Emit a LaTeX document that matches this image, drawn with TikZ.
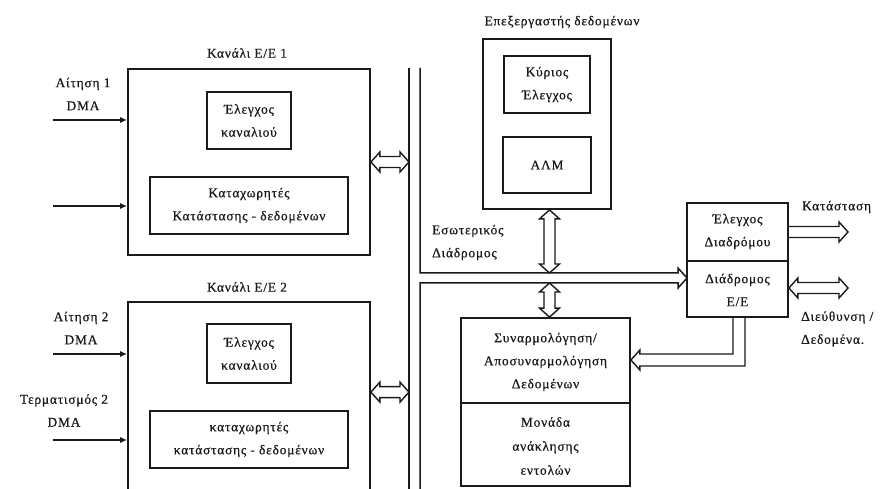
\documentclass[tikz,border=0pt]{standalone}
\usepackage{fontspec}
\setmainfont{Liberation Serif}[LetterSpace=6.0, FakeBold=0.6]
\usetikzlibrary{calc,arrows.meta}

\definecolor{ink}{HTML}{1A1A1A}

\tikzset{
  lbl/.style={inner sep=0pt, text=ink, font=\fontsize{13.4}{23}\selectfont, align=center},
  lblL/.style={lbl, anchor=west, align=left},
  outerbox/.style={draw=ink, line width=1.8pt, inner sep=0pt},
  innerbox/.style={draw=ink, line width=2.4pt, inner sep=0pt, lbl},
  fat/.style={draw=ink, line width=1.4pt, line join=miter},
  busline/.style={draw=ink, line width=1.5pt},
  sig/.style={draw=ink, line width=1.3pt, -{Latex[length=7pt,width=6pt]}}
}

% hollow double-headed arrow, horizontal: left tip #1, right tip #2
\newcommand{\fatHH}[2]{%
  \draw[fat] #1 -- ++(9,-10) -- ++(0,4.5) -- ($#2+(-9,-5.5)$) -- ++(0,-4.5) -- #2
    -- ++(-9,10) -- ++(0,-4.5) -- ($#1+(9,5.5)$) -- ++(0,4.5) -- cycle;}
% hollow single-headed arrow, horizontal: tail #1, right tip #2
\newcommand{\fatHR}[2]{%
  \draw[fat] ($#1+(0,-5.5)$) -- ($#2+(-9,-5.5)$) -- ++(0,-4.5) -- #2
    -- ++(-9,10) -- ++(0,-4.5) -- ($#1+(0,5.5)$);}
% hollow double-headed arrow, vertical: top tip #1, bottom tip #2
\newcommand{\fatVV}[2]{%
  \draw[fat] #1 -- ++(10,9) -- ++(-4.5,0) -- ($#2+(5.5,-9)$) -- ++(4.5,0) -- #2
    -- ++(-10,-9) -- ++(4.5,0) -- ($#1+(-5.5,9)$) -- ++(-4.5,0) -- cycle;}

\begin{document}
\begin{tikzpicture}[x=1pt,y=-1pt]
\useasboundingbox[fill=white] (0,0) rectangle (884,489);
\clip (0,0) rectangle (884,489);

% ---------------- channel 1 ----------------
\node[outerbox, minimum width=242, minimum height=186] (ch1) at (249,162) {};
\node[lbl] (ch1t) at (247,53) {Κανάλι Ε/Ε 1};
\node[innerbox, minimum width=84, minimum height=57] (ctl1) at (249,120.5) {Έλεγχος\\καναλιού};
\node[innerbox, minimum width=198, minimum height=57] (reg1) at (249,205.5) {Καταχωρητές\\Κατάστασης - δεδομένων};
\node[lbl] (req1) at (83,94) {Αίτηση 1\\DMA};
\coordinate (in1a) at (53,120);
\coordinate (in1b) at (53,206);
\draw[sig] (in1a) -- (in1a -| ch1.west);
\draw[sig] (in1b) -- (in1b -| ch1.west);

% ---------------- channel 2 ----------------
\node[outerbox, minimum width=242, minimum height=218] (ch2) at (249,411) {};
\node[lbl] (ch2t) at (247,287) {Κανάλι Ε/Ε 2};
\node[innerbox, minimum width=84, minimum height=59] (ctl2) at (249,353.5) {Έλεγχος\\καναλιού};
\node[innerbox, minimum width=198, minimum height=57] (reg2) at (249,439.5) {καταχωρητές\\κατάστασης - δεδομένων};
\node[lbl] (req2) at (81,328) {Αίτηση 2\\DMA};
\node[lbl] (term2) at (64,410.5) {Τερματισμός 2\\DMA};
\coordinate (in2a) at (53,354);
\coordinate (in2b) at (53,440);
\draw[sig] (in2a) -- (in2a -| ch2.west);
\draw[sig] (in2b) -- (in2b -| ch2.west);

% ---------------- system bus ----------------
\coordinate (busLtop) at (409,68);
\coordinate (busLbot) at (409,495);
\coordinate (busRtop) at (420,68);
\coordinate (busRbot) at (420,495);
\coordinate (bustip) at (687,278);
\draw[busline] (busLtop) -- (busLbot);
\draw[busline, line join=miter] (busRtop) -- (420,273) -- ($(bustip)+(-9,-5)$) -- ++(0,-5)
  -- (bustip) -- ++(-9,10) -- ++(0,-5) -- (420,283) -- (busRbot);

% channel links to the bus
\coordinate (ch1bus) at (ch1.east -| busLtop);
\fatHH{(ch1.east)}{(ch1bus)}
\coordinate (ch2a) at ($(ch2.north east)+(0,91)$);
\coordinate (ch2bus) at (ch2a -| busLtop);
\fatHH{(ch2a)}{(ch2bus)}

% ---------------- data processor ----------------
\node[outerbox, minimum width=128, minimum height=170] (cpu) at (547,124) {};
\node[lbl] (cput) at (562,22) {Επεξεργαστής δεδομένων};
\node[innerbox, minimum width=86, minimum height=57] (mctl) at (547,84.5) {Κύριος\\Έλεγχος};
\node[innerbox, minimum width=88, minimum height=56] (alu) at (547,165) {ΑΛΜ};
\node[lblL] (ibus) at (432,242.5) {Εσωτερικός\\Διάδρομος};

\coordinate (cpuport) at ($(cpu.south)+(2.5,0)$);
\coordinate (ibusA) at (cpuport |- 0,273);
\fatVV{(cpuport)}{(ibusA)}

% ---------------- assembly / fetch unit ----------------
\node[outerbox, minimum width=169, minimum height=168] (asm) at (545.5,402) {};
\draw[ink, line width=1.8pt] (asm.west |- 0,403) -- (asm.east |- 0,403);
\node[lbl] (asmt) at (545.5,362) {Συναρμολόγηση/\\Αποσυναρμολόγηση\\Δεδομένων};
\node[lbl, font=\fontsize{13.4}{24}\selectfont] (fetch) at (545.5,446) {Μονάδα\\ανάκλησης\\εντολών};
\coordinate (ibusB) at (cpuport |- 0,283);
\coordinate (asmport) at (cpuport |- asm.north);
\fatVV{(ibusB)}{(asmport)}

% ---------------- bus control / I/O bus ----------------
\node[outerbox, minimum width=101, minimum height=114] (bctl) at (737.5,260) {};
\draw[ink, line width=1.8pt] (bctl.west |- 0,261) -- (bctl.east |- 0,261);
\node[lbl] (bctlt) at (737.5,231.5) {Έλεγχος\\Διαδρόμου};
\node[lbl] (iobt) at (737.5,290) {Διάδρομος\\Ε/Ε};

\coordinate (stA) at (bctl.east |- 0,232);
\coordinate (stB) at (848,232);
\fatHR{(stA)}{(stB)}
\node[lblL] (stt) at (802,207) {Κατάσταση};

\coordinate (adA) at (bctl.east |- 0,288);
\coordinate (adB) at (848,288);
\fatHH{(adA)}{(adB)}
\node[lblL] (adt) at (801,329) {Διεύθυνση /\\Δεδομένα.};

% I/O bus feed into the assembly unit
\coordinate (ioport) at (739,317);
\coordinate (asmtip) at (asm.east |- 0,360);
\draw[fat] ($(ioport)+(-6,0)$) -- ($(ioport)+(-6,37)$) -- ($(asmtip)+(9,-6)$) -- ++(0,-4)
  -- (asmtip) -- ++(9,10) -- ++(0,-4) -- ($(ioport)+(6,49)$) -- ($(ioport)+(6,0)$);

\end{tikzpicture}
\end{document}
